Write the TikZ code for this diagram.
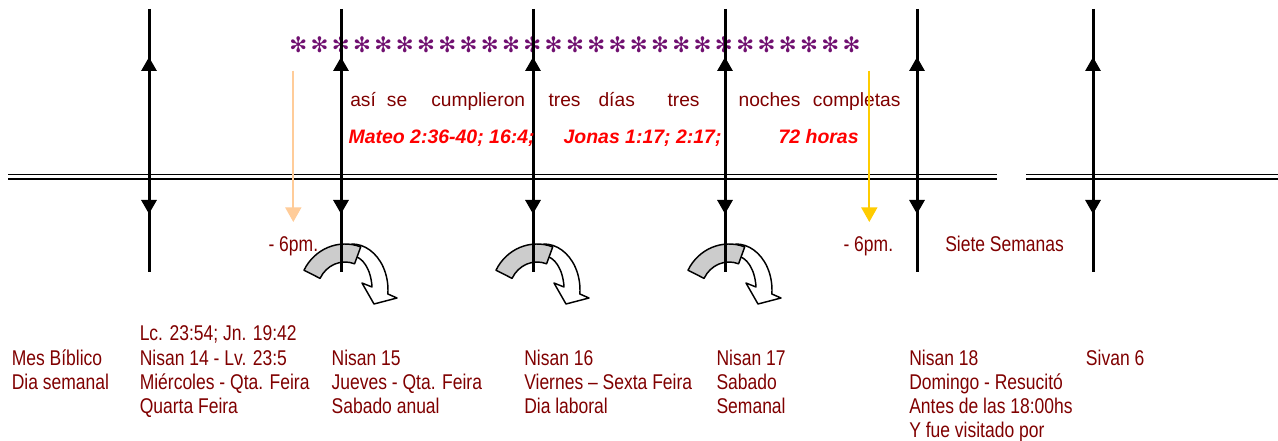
\documentclass[tikz,border=0pt]{standalone}
\usepackage{fontspec}
\setmainfont{Liberation Sans}
\newfontfamily\narrowf[FakeStretch=0.82]{Liberation Sans}
\newfontfamily\dejavu{DejaVu Sans}
\usetikzlibrary{arrows.meta,calc}
\definecolor{dred}{RGB}{128,0,0}
\definecolor{purp}{RGB}{112,16,112}
\definecolor{peach}{RGB}{255,204,153}
\definecolor{gold}{RGB}{255,204,0}
\definecolor{arrgray}{RGB}{204,204,204}
\tikzset{
  vline/.style={line width=2.25pt, black},
  vtip/.style={line width=2.25pt, -{Triangle[width=11.25pt,length=10.5pt]}},
  hline/.style={line width=1.3pt, black},
  colarrow/.style={line width=1.5pt, -{Triangle[width=12pt,length=11pt]}},
  low/.style={font=\narrowf\fontsize{16}{18}\selectfont, text=dred, anchor=base west, inner sep=0},
  up/.style={font=\fontsize{14.4}{17}\selectfont, text=dred, anchor=base west, inner sep=0},
  refs/.style={font=\bfseries\itshape\fontsize{14.6}{17}\selectfont, text=red, anchor=base west, inner sep=0},
  star/.style={font=\dejavu\fontsize{16}{18}\selectfont, text=purp, inner sep=0},
  cband/.style={draw=black, line width=1.1pt, line join=round},
  curvarr/.pic={
    \path[cband, fill=white] (11,244) arc[start angle=-90,end angle=5,x radius=36,y radius=46]
      -- (56,298) -- (33,304) -- (21,283) -- (31,287)
      arc[start angle=-5,end angle=-90,x radius=20,y radius=34] -- cycle;
    \path[cband, fill=arrgray] (-36.99,270.21) arc[start angle=-153,end angle=-70,x radius=46,y radius=48]
      -- (13.58,263.81) arc[start angle=-70,end angle=-153,x radius=28,y radius=30] -- cycle;
  }
}
\begin{document}
\begin{tikzpicture}[x=0.75pt,y=-0.75pt]
\useasboundingbox[fill=white] (0,0) rectangle (1278,441);

% double horizontal line
\coordinate (ha1) at (8,174.5);   \coordinate (ha2) at (997,174.5);
\coordinate (hb1) at (8,179);     \coordinate (hb2) at (997,179);
\coordinate (hc1) at (1026,174.5); \coordinate (hc2) at (1278,174.5);
\coordinate (hd1) at (1026,179);   \coordinate (hd2) at (1278,179);
\draw[hline] (ha1) -- (ha2);
\draw[hline] (hb1) -- (hb2);
\draw[hline] (hc1) -- (hc2);
\draw[hline] (hd1) -- (hd2);

% asterisks
\foreach \k in {0,...,26}{
  \node[star] (s\k) at ({298.3+21.28*\k},45) {✻};
}

% curved arrows
\pic at (341,0) {curvarr};
\pic at (533,0) {curvarr};
\pic at (725,0) {curvarr};

% vertical lines with arrowheads
\foreach \x [count=\i] in {149,341,533,725,917,1093}{
  \coordinate (t\i) at (\x,9);
  \coordinate (b\i) at (\x,272);
  \coordinate (m\i) at (\x,110);
  \coordinate (u\i) at (\x,57);
  \coordinate (n\i) at (\x,185);
  \coordinate (d\i) at (\x,214);
  \draw[vline] (t\i) -- (b\i);
  \draw[vtip] (m\i) -- (u\i);
  \draw[vtip] (n\i) -- (d\i);
}

% upper sentence
\node[up] (w1) at (350,107) {así};
\node[up] (w2) at (386.7,107) {se};
\node[up] (w3) at (431,107) {cumplieron};
\node[up] (w4) at (548.3,107) {tres};
\node[up] (w5) at (598.3,107) {días};
\node[up] (w6) at (667.3,107) {tres};
\node[up] (w7) at (738.3,107) {noches};
\node[up] (w8) at (812.7,107) {completas};

% red references
\node[refs] (r1) at (348.3,144) {Mateo 2:36-40; 16:4;};
\node[refs] (r2) at (563.3,144) {Jonas 1:17; 2:17;};
\node[refs] (r3) at (778.3,144) {72 horas};

% middle labels
\node[low] (p1) at (268.3,251.7) {- 6pm.};
\node[low] (p2) at (843.3,251.7) {- 6pm.};
\node[low] (sv) at (945,251.7) {Siete Semanas};

% bottom columns
\node[low] (c0a) at (11.5,365.5) {Mes Bíblico};
\node[low] (c0b) at (11.5,390) {Dia semanal};

\node[low] (c1a) at (139.5,341) {Lc. 23:54; Jn. 19:42};
\node[low] (c1b) at (139.5,365.5) {Nisan 14 - Lv. 23:5};
\node[low] (c1c) at (139.5,390) {Miércoles - Qta. Feira};
\node[low] (c1d) at (139.5,414) {Quarta Feira};

\node[low] (c2a) at (331.4,365.5) {Nisan 15};
\node[low] (c2b) at (331.4,390) {Jueves - Qta. Feira};
\node[low] (c2c) at (331.4,414) {Sabado anual};

\node[low] (c3a) at (524,365.5) {Nisan 16};
\node[low] (c3b) at (524,390) {Viernes – Sexta Feira};
\node[low] (c3c) at (524,414) {Dia laboral};

\node[low] (c4a) at (716.3,365.5) {Nisan 17};
\node[low] (c4b) at (716.3,390) {Sabado};
\node[low] (c4c) at (716.3,414) {Semanal};

\node[low] (c5a) at (909,365.5) {Nisan 18};
\node[low] (c5b) at (909,390) {Domingo - Resucitó};
\node[low] (c5c) at (909,414) {Antes de las 18:00hs};
\node[low] (c5d) at (909,438) {Y fue visitado por};

\node[low] (c6a) at (1085.7,365.5) {Sivan 6};

% coloured time arrows
\coordinate (pa1) at (293.3,70.7); \coordinate (pa2) at (293.3,222);
\coordinate (ya1) at (869.3,70.7); \coordinate (ya2) at (869.3,222);
\draw[colarrow, peach] (pa1) -- (pa2);
\draw[colarrow, gold] (ya1) -- (ya2);
\end{tikzpicture}
\end{document}
